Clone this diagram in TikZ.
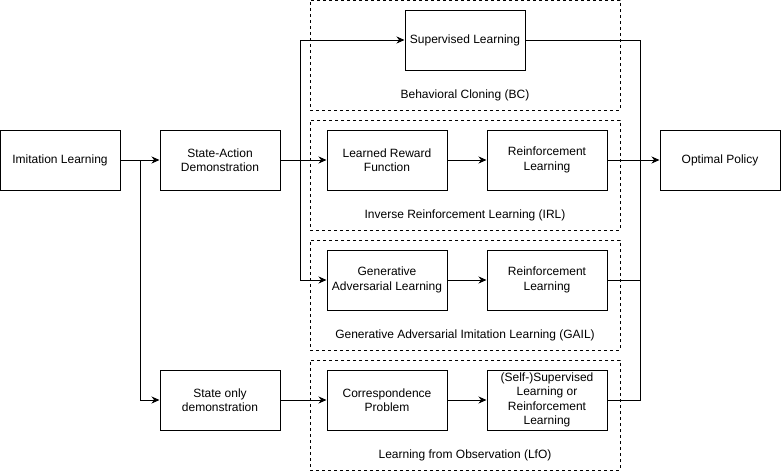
\documentclass[tikz,border=0pt]{standalone}
\usepackage{fontspec}
\setmainfont{Liberation Sans}
\usetikzlibrary{arrows.meta}
\begin{document}
\begin{tikzpicture}[x=1pt,y=-1pt,
 box/.style={draw,line width=1pt,minimum width=120pt,minimum height=60pt,align=center,inner sep=0pt,font=\fontsize{12}{14.5}\selectfont},
 grp/.style={draw,line width=1pt,dash pattern=on 3pt off 3pt,minimum width=310pt,minimum height=110pt,inner sep=0pt},
 lbl/.style={font=\fontsize{12}{14}\selectfont,inner sep=0pt},
 arr/.style={line width=1pt,-{Stealth[length=8pt,width=7pt]}},
 ln/.style={line width=1pt}]
\fill[white] (0,0) rectangle (781,471);
\useasboundingbox (0,0) rectangle (781,471);
% groups
\node[grp] (gBC) at (465,55) {};
\node[grp] (gIRL) at (465,175) {};
\node[grp] (gGAIL) at (465,295) {};
\node[grp] (gLfO) at (465,415) {};
\node[lbl] (lBC) at (465,95) {Behavioral Cloning (BC)};
\node[lbl] (lIRL) at (465,215) {Inverse Reinforcement Learning (IRL)};
\node[lbl] (lGAIL) at (465,335) {Generative Adversarial Imitation Learning (GAIL)};
\node[lbl] (lLfO) at (465,455) {Learning from Observation (LfO)};
% boxes
\node[box] (IL) at (60,160) {Imitation Learning};
\node[box] (SA) at (220,160) {State-Action\\Demonstration};
\node[box] (SO) at (220,400) {State only\\demonstration};
\node[box] (Sup) at (465,40) {Supervised Learning};
\node[box] (LRF) at (387,160) {Learned Reward\\Function};
\node[box] (RL1) at (547,160) {Reinforcement\\Learning};
\node[box] (GAL) at (387,280) {Generative\\Adversarial Learning};
\node[box] (RL2) at (547,280) {Reinforcement\\Learning};
\node[box] (CP) at (387,400) {Correspondence\\Problem};
\node[box] (SSL) at (547,400) {(Self-)Supervised\\Learning or\\Reinforcement\\Learning};
\node[box] (OP) at (720,160) {Optimal Policy};
% connectors
\coordinate (b1) at (140,160);
\coordinate (b2) at (300,160);
\coordinate (m1) at (640,40);
\coordinate (m2) at (640,280);
\coordinate (m3) at (640,400);
\draw[arr] (IL) -- (SA);
\draw[arr] (b1) |- (SO);
\draw[arr] (SA) -- (LRF);
\draw[arr] (b2) |- (Sup);
\draw[arr] (b2) |- (GAL);
\draw[arr] (LRF) -- (RL1);
\draw[arr] (RL1) -- (OP);
\draw[arr] (GAL) -- (RL2);
\draw[arr] (SO) -- (CP);
\draw[arr] (CP) -- (SSL);
\draw[ln] (Sup.east) -- (m1) -- (m3) -- (SSL.east);
\draw[ln] (RL2.east) -- (m2);
\end{tikzpicture}
\end{document}
